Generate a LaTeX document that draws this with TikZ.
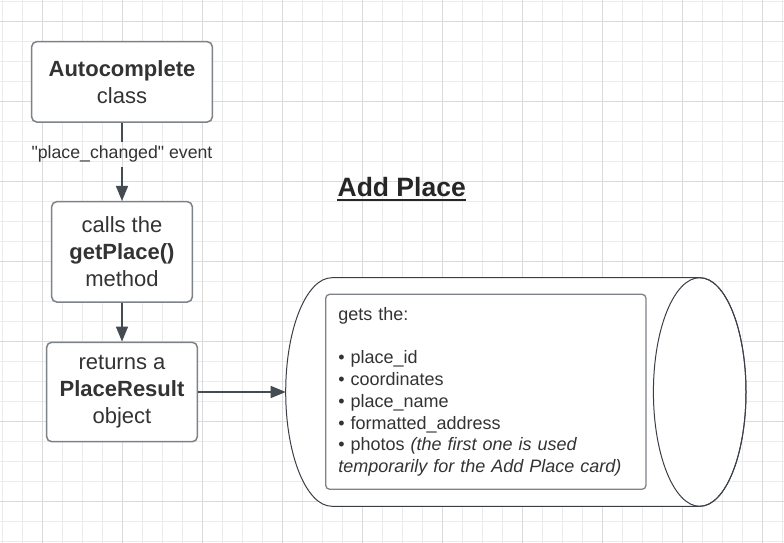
\documentclass[tikz,border=0pt]{standalone}
\usepackage{fontspec}
\setmainfont{Liberation Sans}[Ligatures=TeXOff]
\usetikzlibrary{arrows.meta}
\definecolor{gridminor}{HTML}{EBEBEB}
\definecolor{gridmajor}{HTML}{DADADA}
\definecolor{boxline}{HTML}{7D8289}
\definecolor{arrowline}{HTML}{454B53}
\definecolor{txt}{HTML}{333333}
\definecolor{cylline}{HTML}{3A3F47}
\tikzset{
  minorline/.style={draw=gridminor, line width=1pt},
  majorline/.style={draw=gridmajor, line width=1pt},
  flowbox/.style={draw=boxline, line width=1.5pt, fill=white, rounded corners=5pt,
    align=center, text=txt, inner sep=0pt, font=\fontsize{22}{27}\selectfont},
  connector/.style={draw=arrowline, line width=1.6pt},
  arrowed/.style={connector, -{Triangle[length=15pt,width=12pt]}},
}
\begin{document}
\begin{tikzpicture}[x=1pt, y=-1pt]
\useasboundingbox (0,0) rectangle (784,543);
\fill[white] (0,0) rectangle (784,543);
% grid
\foreach \i in {0,...,39} \draw[minorline] ({2.7+20*\i},0) -- ({2.7+20*\i},543);
\foreach \j in {0,...,27} \draw[minorline] (0,{1.7+20*\j}) -- (784,{1.7+20*\j});
\foreach \i in {0,...,9} \draw[majorline] ({42.7+80*\i},0) -- ({42.7+80*\i},543);
\foreach \j in {0,...,6} \draw[majorline] (0,{21.7+80*\j}) -- (784,{21.7+80*\j});

% flow boxes
\node[flowbox, minimum width=180.6pt, minimum height=80.3pt] (b1) at (122,81.85)
  {\textbf{Autocomplete}\\class};
\node[flowbox, minimum width=140.6pt, minimum height=100.3pt] (b2) at (122,251.85)
  {calls the\\\textbf{getPlace()}\\method};
\node[flowbox, minimum width=150.6pt, minimum height=99.4pt] (b3) at (122,392)
  {returns a\\\textbf{PlaceResult}\\object};

% label on first connector
\node[inner sep=0pt, minimum height=25pt, text=txt, font=\fontsize{17.7}{20}\selectfont] (lbl) at (122,154.2)
  {"place\_changed" event};
\draw[connector] (b1.south) -- (lbl.north);
\draw[arrowed] (lbl.south) -- (b2.north);
\draw[arrowed] (b2.south) -- (b3.north);

% title
\node[inner sep=0pt, anchor=base, text=black!85, font=\fontsize{26.5}{30}\selectfont\bfseries] (title) at (401.7,196.7) {Add Place};
\draw[black!85, line width=1.8pt] ([yshift=-3.4pt]title.base west) -- ([yshift=-3.4pt]title.base east);

% cylinder
\filldraw[draw=cylline, fill=white, line width=1pt]
  (332,277.7) -- (699.7,277.7) arc[start angle=90, end angle=-90, x radius=46.3pt, y radius=114.3pt]
  -- (332,506.3) arc[start angle=270, end angle=90, x radius=46.3pt, y radius=114.3pt] -- cycle;
\draw[draw=cylline, line width=1pt] (699.7,392) ellipse [x radius=46.3pt, y radius=114.3pt];
\coordinate (cylw) at (285.7,392);
\draw[arrowed] (b3.east) -- (cylw);

% inner info box
\node[draw=boxline, line width=1.3pt, fill=white, rounded corners=4pt,
  minimum width=320.3pt, minimum height=195pt, text width=295.1pt, inner xsep=12.6pt, inner ysep=0pt,
  align=left, text=txt, font=\fontsize{18}{21.7}\selectfont] (info) at (485.85,391.8)
  {gets the:\\
   \strut\\
   • place\_id\\
   • coordinates\\
   • place\_name\\
   • formatted\_address\\
   • photos \textit{(the first one is used}\\
   \textit{temporarily for the Add Place card)}};
\end{tikzpicture}
\end{document}
